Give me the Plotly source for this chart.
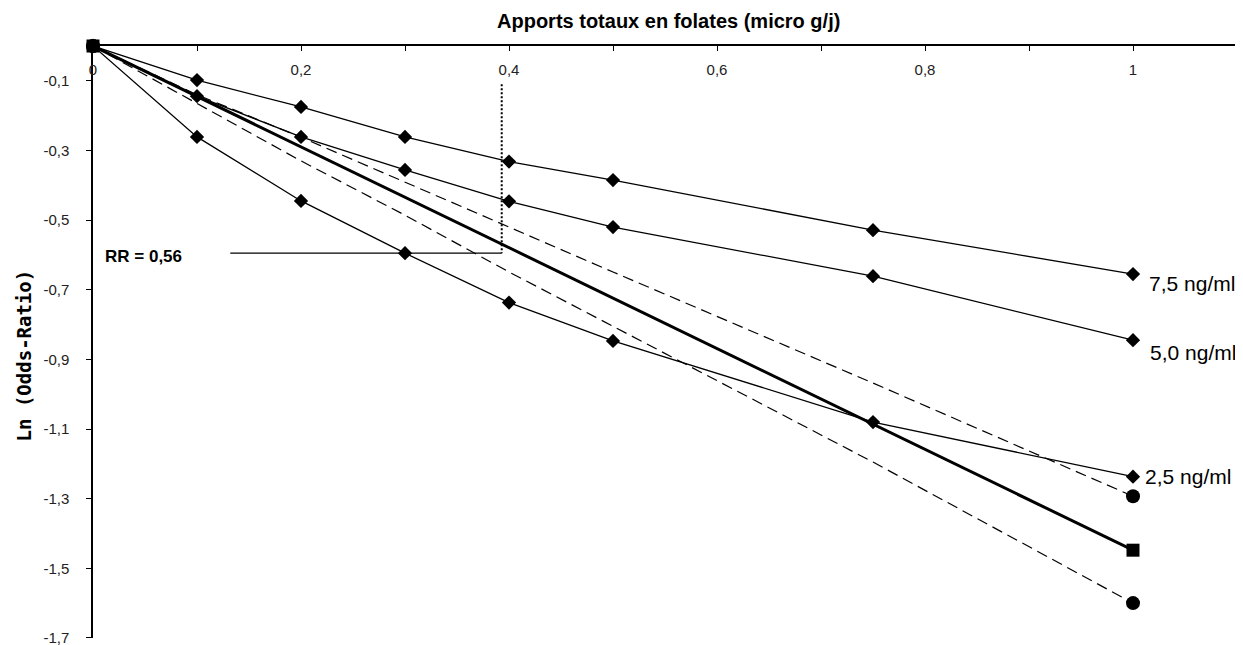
import plotly.graph_objects as go

# ---- data ----
x_folates = [0, 0.1, 0.2, 0.3, 0.4, 0.5, 0.75, 1.0]
s_75 = [0, -0.098, -0.175, -0.261, -0.332, -0.385, -0.529, -0.655]
s_50 = [0, -0.144, -0.261, -0.356, -0.446, -0.520, -0.661, -0.845]
s_25 = [0, -0.261, -0.445, -0.595, -0.737, -0.847, -1.080, -1.237]
pooled = [0, -0.145, -0.290, -0.434, -0.579, -0.724, -1.086, -1.448]
ci_upper = [0, -0.140, -0.262, -0.390, -0.520, -0.649, -0.968, -1.293]
ci_lower = [0, -0.165, -0.330, -0.486, -0.649, -0.805, -1.195, -1.600]

series_labels = ["7,5 ng/ml", "5,0 ng/ml", "2,5 ng/ml"]

x_tickvals = [0, 0.2, 0.4, 0.6, 0.8, 1.0]
x_ticktext = ["0", "0,2", "0,4", "0,6", "0,8", "1"]
x_minorvals = [0.1, 0.3, 0.5, 0.7, 0.9, 1.1]
y_tickvals = [-0.1, -0.3, -0.5, -0.7, -0.9, -1.1, -1.3, -1.5, -1.7]
y_ticktext = ["-0,1", "-0,3", "-0,5", "-0,7", "-0,9", "-1,1", "-1,3", "-1,5", "-1,7"]

rr_text = "RR = 0,56"
rr_x = 0.393
rr_y = -0.595
rr_line_x0 = 0.132
rr_dot_top = -0.11

x_title = "Apports totaux en folates (micro g/j)"
y_title = "Ln (Odds-Ratio)"

FONT = "Liberation Sans, Arial, sans-serif"

fig = go.Figure()

# dashed confidence lines
for ys in (ci_upper, ci_lower):
    fig.add_trace(go.Scatter(
        x=x_folates, y=ys, mode="lines",
        line=dict(color="black", width=1.2, dash="11px,6px"),
        cliponaxis=False, showlegend=False, hoverinfo="skip"))
    fig.add_trace(go.Scatter(
        x=[x_folates[0], x_folates[-1]], y=[ys[0], ys[-1]], mode="markers",
        marker=dict(symbol="circle", size=14, color="black"),
        cliponaxis=False, showlegend=False))

# concentration series with diamonds
for ys in (s_75, s_50, s_25):
    fig.add_trace(go.Scatter(
        x=x_folates, y=ys, mode="lines+markers",
        line=dict(color="black", width=1.3),
        marker=dict(symbol="diamond", size=11, color="black"),
        cliponaxis=False, showlegend=False))

# pooled thick line with squares at ends
fig.add_trace(go.Scatter(
    x=x_folates, y=pooled, mode="lines",
    line=dict(color="black", width=3),
    cliponaxis=False, showlegend=False))
fig.add_trace(go.Scatter(
    x=[x_folates[0], x_folates[-1]], y=[pooled[0], pooled[-1]], mode="markers",
    marker=dict(symbol="square", size=13, color="black"),
    cliponaxis=False, showlegend=False))

# RR guide lines
fig.add_shape(type="line", xref="x", yref="y", x0=rr_line_x0, x1=rr_x, y0=rr_y, y1=rr_y,
              line=dict(color="black", width=1.3))
fig.add_shape(type="line", xref="x", yref="y", x0=rr_x, x1=rr_x, y0=rr_dot_top, y1=rr_y,
              line=dict(color="black", width=2, dash="2px,2px"))

annotations = [
    dict(x=0.010, y=rr_y, xref="x", yref="y", text="<b>%s</b>" % rr_text, showarrow=False,
         xanchor="left", yanchor="middle", yshift=-3, font=dict(family=FONT, size=17, color="black")),
    dict(x=0.503, y=1.042, xref="paper", yref="paper", text="<b>%s</b>" % x_title, showarrow=False,
         xanchor="center", yanchor="middle", font=dict(family=FONT, size=20, color="black")),
    dict(x=-0.060, y=0.478, xref="paper", yref="paper", text="<b>%s</b>" % y_title, showarrow=False,
         textangle=-90, xanchor="center", yanchor="middle",
         font=dict(family="DejaVu Sans Mono, monospace", size=19, color="black")),
]
label_shifts = [(14, -9), (15, -12), (10, 0)]
for lab, ys, (dx, dy) in zip(series_labels, (s_75, s_50, s_25), label_shifts):
    annotations.append(dict(x=x_folates[-1], y=ys[-1], xref="x", yref="y", text=lab, showarrow=False,
                            xanchor="left", yanchor="middle", xshift=dx, yshift=dy,
                            font=dict(family=FONT, size=21, color="black")))

# page body has an 8px margin: size the figure so the plot lands on the same pixels
fig.update_layout(
    width=1235, height=637,
    margin=dict(l=85, r=6, t=38, b=7, autoexpand=False),
    plot_bgcolor="white", paper_bgcolor="white",
    font=dict(family=FONT, size=15, color="black"),
    annotations=annotations,
    showlegend=False,
)
fig.update_xaxes(
    side="top", range=[0, 1.1], showgrid=False, zeroline=False, automargin=False,
    showline=True, linecolor="black", linewidth=1.5,
    tickmode="array", tickvals=x_tickvals, ticktext=x_ticktext,
    ticks="inside", ticklen=5, tickwidth=1.3, tickcolor="black",
    ticklabelposition="inside", ticklabeloverflow="allow", ticklabelstandoff=14,
    tickfont=dict(family=FONT, size=15, color="#222"),
    minor=dict(tickmode="array", tickvals=x_minorvals, ticks="inside", ticklen=5,
               tickwidth=1.3, tickcolor="black", showgrid=False),
)
fig.update_yaxes(
    range=[-1.7002, 0], showgrid=False, zeroline=False, automargin=False,
    showline=True, linecolor="black", linewidth=1.5,
    tickmode="array", tickvals=y_tickvals, ticktext=y_ticktext,
    ticks="outside", ticklen=5, tickwidth=1.3, tickcolor="black",
    ticklabelstandoff=14, ticklabeloverflow="allow",
    tickfont=dict(family=FONT, size=15, color="#222"),
)

fig.write_html("out.html")
